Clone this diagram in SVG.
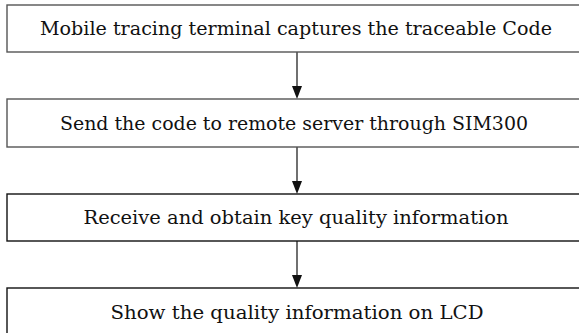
<svg xmlns="http://www.w3.org/2000/svg" width="579" height="333" viewBox="0 0 579 333">
<style>
.box{fill:#fff;stroke-width:1.4}
.g{stroke:#555}
.k{stroke:#111}
.t{font-family:"DejaVu Serif","Liberation Serif",serif;font-size:18.5px;fill:#111;text-anchor:middle}
.c{stroke:#111;stroke-width:1.2;fill:none}
.ah{fill:#111}
</style>
<rect width="579" height="333" fill="#fff"/>
<g id="connectors">
<line class="c" x1="297" y1="52" x2="297" y2="88"/>
<path class="ah" d="M292,86 L302,86 L297,99 Z"/>
<line class="c" x1="297" y1="147" x2="297" y2="183"/>
<path class="ah" d="M292,181 L302,181 L297,194 Z"/>
<line class="c" x1="297" y1="241" x2="297" y2="277"/>
<path class="ah" d="M292,275 L302,275 L297,288 Z"/>
</g>
<g id="n1"><rect class="box g" x="7" y="5" width="580" height="47"/><text class="t" x="296" y="35" textLength="512" lengthAdjust="spacingAndGlyphs">Mobile tracing terminal captures the traceable Code</text></g>
<g id="n2"><rect class="box g" x="7" y="99" width="580" height="48"/><text class="t" x="294" y="130" textLength="468" lengthAdjust="spacingAndGlyphs">Send the code to remote server through SIM300</text></g>
<g id="n3"><rect class="box k" x="7" y="194" width="580" height="47"/><text class="t" x="296" y="224" textLength="425" lengthAdjust="spacingAndGlyphs">Receive and obtain key quality information</text></g>
<g id="n4"><rect class="box k" x="7" y="288" width="580" height="50"/><text class="t" x="297" y="319" textLength="373" lengthAdjust="spacingAndGlyphs">Show the quality information on LCD</text></g>
</svg>
